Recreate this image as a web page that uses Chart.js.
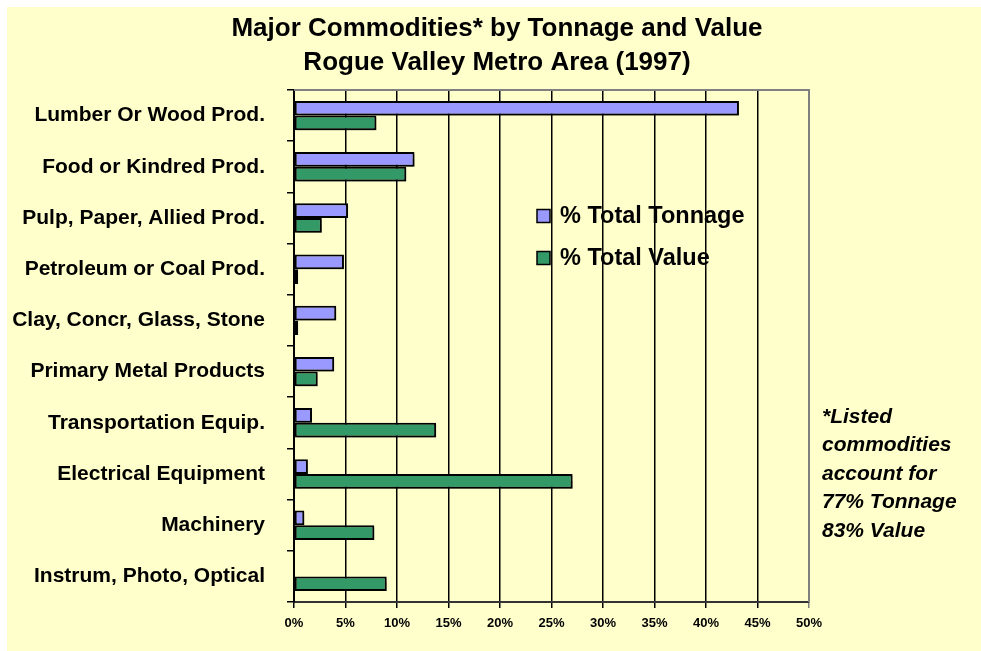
<!DOCTYPE html>
<html>
<head>
<meta charset="utf-8">
<script src="https://cdn.jsdelivr.net/npm/chart.js@4.4.1/dist/chart.umd.min.js"></script>
<style>
html,body{margin:0;padding:0;background:#fff;}
canvas{display:block;}
</style>
</head>
<body>
<canvas id="c" width="981" height="651"></canvas>
<script>
const categories = [
  "Lumber Or Wood Prod.",
  "Food or Kindred Prod.",
  "Pulp, Paper, Allied Prod.",
  "Petroleum or Coal Prod.",
  "Clay, Concr, Glass, Stone",
  "Primary Metal Products",
  "Transportation Equip.",
  "Electrical Equipment",
  "Machinery",
  "Instrum, Photo, Optical"
];
const tonnage = [43.2, 11.7, 5.25, 4.85, 4.1, 3.9, 1.75, 1.35, 1.0, 0];
const value   = [8.0, 10.9, 2.7, 0.4, 0.4, 2.3, 13.8, 27.05, 7.8, 9.0];
const xTicks = [0, 5, 10, 15, 20, 25, 30, 35, 40, 45, 50];
const titleLines = ["Major Commodities* by Tonnage and Value", "Rogue Valley Metro Area (1997)"];
const noteLines = ["*Listed", "commodities", "account for", "77% Tonnage", "83% Value"];
const seriesNames = ["% Total Tonnage", "% Total Value"];

const FONT = "'Liberation Sans', Arial, sans-serif";

const decor = {
  id: 'decor',
  beforeDraw(chart) {
    const ctx = chart.ctx;
    ctx.save();
    ctx.fillStyle = '#FFFFCC';
    ctx.fillRect(7, 7, chart.width - 7, chart.height - 7);
    ctx.restore();
  },
  beforeDatasetsDraw(chart) {
    const ctx = chart.ctx;
    ctx.save();
    ctx.shadowColor = 'rgba(0,0,0,0.35)';
    ctx.shadowOffsetX = 2;
    ctx.shadowOffsetY = 2;
    ctx.shadowBlur = 1;
  },
  afterDatasetsDraw(chart) {
    chart.ctx.restore();
  },
  afterDraw(chart) {
    const ctx = chart.ctx;
    const a = chart.chartArea;
    ctx.save();
    // top and right gray border
    ctx.strokeStyle = '#808080';
    ctx.lineWidth = 2;
    ctx.beginPath();
    ctx.moveTo(a.left, a.top);
    ctx.lineTo(a.right, a.top);
    ctx.lineTo(a.right, a.bottom);
    ctx.stroke();
    // title
    ctx.fillStyle = '#000';
    ctx.textAlign = 'center';
    ctx.textBaseline = 'middle';
    ctx.font = "bold 26px " + FONT;
    ctx.fillText(titleLines[0], 497, 29);
    ctx.fillText(titleLines[1], 497, 63);
    // legend
    ctx.font = "bold 23.5px " + FONT;
    ctx.textAlign = 'left';
    const ly = [216, 258];
    chart.data.datasets.forEach((ds, i) => {
      ctx.fillStyle = ds.backgroundColor;
      ctx.fillRect(537, ly[i] - 6.5, 13, 13);
      ctx.strokeStyle = '#000';
      ctx.lineWidth = 1.5;
      ctx.strokeRect(537, ly[i] - 6.5, 13, 13);
      ctx.fillStyle = '#000';
      ctx.fillText(ds.label, 560, ly[i] + 1);
    });
    // note
    ctx.font = "italic bold 21px " + FONT;
    noteLines.forEach((t, i) => {
      ctx.fillText(t, 822, 417 + i * 28.5);
    });
    ctx.restore();
  }
};

new Chart(document.getElementById('c'), {
  type: 'bar',
  data: {
    labels: categories,
    datasets: [
      { label: seriesNames[0], data: tonnage, backgroundColor: '#9999FF', borderColor: '#000', borderWidth: 2, borderSkipped: false },
      { label: seriesNames[1], data: value, backgroundColor: '#339966', borderColor: '#000', borderWidth: 2, borderSkipped: false }
    ]
  },
  options: {
    indexAxis: 'y',
    responsive: false,
    animation: false,
    events: [],
    layout: { padding: { top: 90, right: 172, left: 0, bottom: 0 } },
    datasets: { bar: { categoryPercentage: 0.575, barPercentage: 1.0 } },
    plugins: { legend: { display: false }, title: { display: false }, tooltip: { enabled: false } },
    scales: {
      x: {
        type: 'linear',
        min: 0, max: 50,
        afterBuildTicks(scale) { scale.ticks = xTicks.map(v => ({ value: v })); },
        afterFit(scale) { scale.height = 49; },
        ticks: {
          callback: v => v + '%',
          color: '#000',
          font: { family: FONT, size: 13, weight: 'bold' },
          padding: 8,
          maxRotation: 0
        },
        grid: {
          color: ctx => (ctx.tick && ctx.tick.value === 50) ? '#808080' : '#000',
          lineWidth: 1.5,
          tickLength: 6,
          drawTicks: true
        },
        border: { color: '#333', width: 2 }
      },
      y: {
        afterFit(scale) { scale.width = 294; },
        ticks: {
          color: '#000',
          font: { family: FONT, size: 21, weight: 'bold' },
          padding: 22,
          crossAlign: 'near'
        },
        grid: {
          offset: true,
          drawOnChartArea: false,
          color: '#000',
          lineWidth: 1.5,
          tickLength: 7
        },
        border: { color: '#000', width: 2 }
      }
    }
  },
  plugins: [decor]
});
</script>
</body>
</html>
